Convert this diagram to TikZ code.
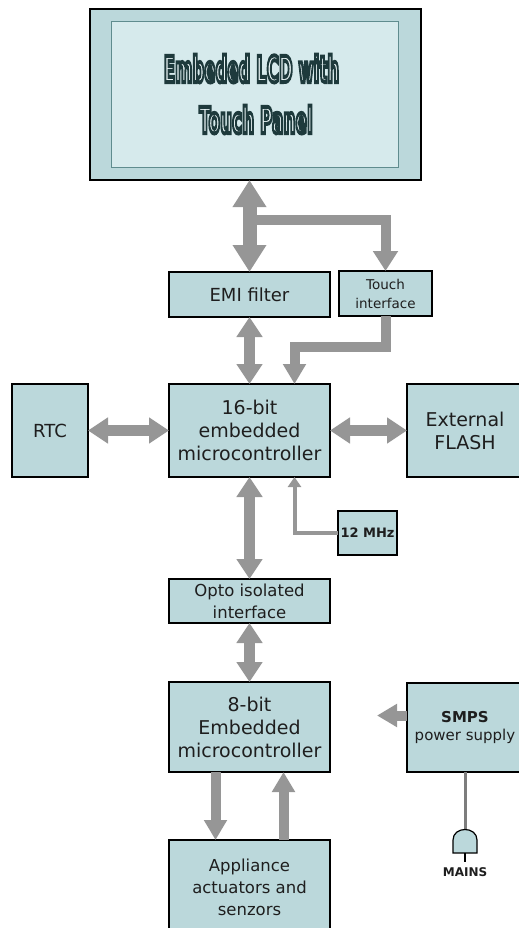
\documentclass[tikz,border=0pt]{standalone}
\usepackage{fontspec}
\setmainfont{DejaVu Sans}
\usepackage{graphicx}
\usepackage{tikz}
\usetikzlibrary{arrows.meta}
\definecolor{pdfcolor1}{RGB}{30,30,30}
\definecolor{pdfcolor2}{RGB}{187,216,219}
\definecolor{pdfcolor3}{RGB}{150,150,150}
\definecolor{pdfcolor4}{RGB}{214,234,236}
\definecolor{pdfcolor5}{RGB}{30,58,60}
\definecolor{pdfcolor6}{RGB}{95,140,142}
\definecolor{pdfcolor7}{RGB}{125,125,125}
\definecolor{pdfcolor8}{RGB}{232,243,244}

\begin{document}
\begin{tikzpicture}[x=1bp,y=-1bp,inner sep=0pt,outer sep=0pt,
  blk/.style={draw=black,line width=1.2bp,fill=pdfcolor2,text=pdfcolor1,align=center},
  txtl/.style={font=\fontsize{19bp}{23bp}\selectfont},
  txtm/.style={font=\fontsize{16.5bp}{22bp}\selectfont},
  txts/.style={font=\fontsize{13.5bp}{19bp}\selectfont},
  lcdtitle/.style={anchor=base,text=pdfcolor8,font=\fontsize{36bp}{40bp}\bfseries\selectfont},
  lcdbus/.style={draw=pdfcolor3,line width=14bp,{Triangle[width=32bp,length=27bp]}-{Triangle[width=32bp,length=27bp]}},
  tapbus/.style={draw=pdfcolor3,line width=10bp,-{Triangle[width=24bp,length=20bp]}},
  bus/.style={draw=pdfcolor3,line width=11bp,{Triangle[width=25bp,length=20bp]}-{Triangle[width=25bp,length=20bp]}},
  feed/.style={draw=pdfcolor3,line width=10bp,-{Triangle[width=22bp,length=20bp]}},
  clkline/.style={draw=pdfcolor3,line width=4bp,-{Triangle[width=13bp,length=10bp]}},
  wire/.style={draw=pdfcolor7,line width=3bp}]
  \useasboundingbox (0,0) rectangle (519,928);
  \clip (0,0) rectangle (519,928);
  \node[blk,line width=1.5bp,minimum width=331bp,minimum height=171bp] (lcd) at (255.5,94.5) {};
  \node[draw=pdfcolor6,line width=1bp,fill=pdfcolor4,minimum width=286bp,minimum height=146bp] (screen) at (255,94) {};
  \node[lcdtitle] (titleA) at (251.5,82) {\special{pdf:literal direct 0.118 0.227 0.235 RG 4 w 2 Tr}\scalebox{0.46}[1]{Embeded LCD with}\special{pdf:literal direct 0 Tr}};
  \node[lcdtitle] (titleB) at (256,133) {\special{pdf:literal direct 0.118 0.227 0.235 RG 4 w 2 Tr}\scalebox{0.47}[1]{Touch Panel}\special{pdf:literal direct 0 Tr}};
  \node[blk,font=\fontsize{18bp}{22bp}\selectfont,minimum width=161bp,minimum height=45bp] (emi) at (249.5,294.5) {EMI filter};
  \node[blk,txts,minimum width=93bp,minimum height=45bp] (touch) at (385.5,293.5) {Touch\\interface};
  \node[blk,txtl,minimum width=161bp,minimum height=93bp] (mcu16) at (249.5,430.5) {16-bit\\embedded\\microcontroller};
  \node[blk,font=\fontsize{18bp}{22bp}\selectfont,minimum width=76bp,minimum height=93bp] (rtc) at (50,430.5) {RTC};
  \node[blk,txtl,minimum width=116bp,minimum height=93bp] (flash) at (465,430.5) {External\\FLASH};
  \node[blk,font=\fontsize{13bp}{16bp}\bfseries\selectfont,minimum width=59bp,minimum height=44bp] (mhz) at (367.5,533) {12 MHz};
  \node[blk,txtm,minimum width=161bp,minimum height=44bp] (opto) at (249.5,601) {Opto isolated\\interface};
  \node[blk,txtl,minimum width=161bp,minimum height=90bp] (mcu8) at (249.5,727) {8-bit\\Embedded\\microcontroller};
  \node[blk,font=\fontsize{15bp}{18bp}\selectfont,minimum width=116bp,minimum height=89bp] (smps) at (465,727.5) {\textbf{SMPS}\\power supply};
  \node[blk,txtm,minimum width=161bp,minimum height=95bp] (appl) at (249.5,887.5) {Appliance\\actuators and\\senzors};
  \node[text=pdfcolor1,font=\fontsize{12bp}{14bp}\bfseries\selectfont] (mains) at (465,872) {MAINS};

  \draw[lcdbus] (emi.north |- lcd.south) -- (emi.north);
  \coordinate (split) at ([yshift=52bp]emi.north);
  \draw[tapbus] (split) -| (touch.north);
  \draw[bus] (emi.south) -- (mcu16.north);
  \draw[feed] (touch.south) -- ++(0,31) -| ([xshift=45bp]mcu16.north);
  \draw[bus] (rtc.east) -- (mcu16.west);
  \draw[bus] (mcu16.east) -- (flash.west);
  \draw[bus] (mcu16.south) -- (opto.north);
  \draw[clkline] (mhz.west) -| ([xshift=45bp]mcu16.south);
  \draw[bus] (opto.south) -- (mcu8.north);
  \coordinate (supply) at ([xshift=-30bp,yshift=12bp]smps.west);
  \draw[feed] ([yshift=12bp]smps.west) -- (supply);
  \draw[feed] ([xshift=-34bp]mcu8.south) -- ([xshift=-34bp]appl.north);
  \draw[feed] ([xshift=34bp]appl.north) -- ([xshift=34bp]mcu8.south);
  \coordinate (plug) at (465,829.5);
  \draw[wire] (smps.south) -- (plug);
  \draw[draw=black,line width=1.2bp,fill=pdfcolor2] (453,853) -- (453,840) .. controls (453,826) and (477,826) .. (477,840) -- (477,853) -- cycle;
  \draw[draw=black,line width=1.2bp] (465,853) -- (465,862);
\end{tikzpicture}
\end{document}
